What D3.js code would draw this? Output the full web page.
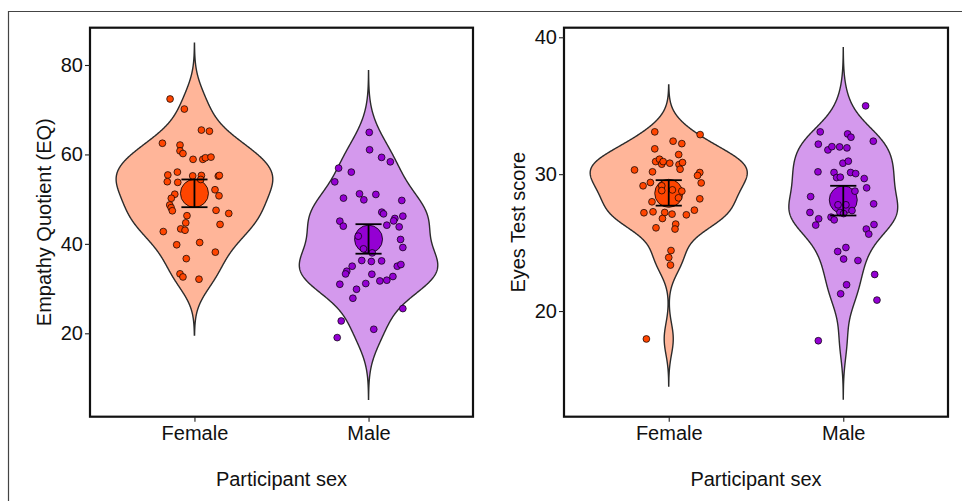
<!DOCTYPE html>
<html><head><meta charset="utf-8">
<script src="https://cdn.jsdelivr.net/npm/d3@7"></script>
<style>
html,body{margin:0;padding:0;background:#fff;}
svg{display:block;font-family:"Liberation Sans",Arial,sans-serif;}
</style></head>
<body>
<svg id="chart" width="962" height="501"></svg>
<script>
// ---------- data ----------
const categories = ["Female", "Male"];
const colors = ["#FF4500", "#9400D3"];

// Empathy Quotient (EQ) – values and horizontal jitter (category units)
const eqFemale = [72.4,70.15,65.45,65.2,62.5,62.1,60.8,60.2,58.9,58.9,59.25,59.4,55.4,56.05,53.9,53.75,55.2,55.3,54.4,55.15,55.3,52.1,50.75,51.1,50.2,48.7,48.1,47.4,47.5,46.8,46.3,44.7,44.35,43.35,43.05,42.75,40.3,39.8,38.15,36.7,33.3,32.6,32.1];
const eqFemaleJit = [-0.14,-0.058,0.04,0.086,-0.184,-0.083,-0.083,-0.066,-0.008,0.048,0.063,0.095,-0.153,-0.098,-0.156,-0.096,-0.01,0.04,0.036,0.137,0.143,0.118,0.141,-0.113,-0.133,-0.142,-0.134,-0.127,0.124,0.197,-0.043,-0.05,0.147,-0.079,-0.054,-0.179,0.03,-0.102,0.12,-0.047,-0.083,-0.066,0.026];
const eqMale = [64.93,61.04,59.34,58.35,56.94,56.05,53.87,50.23,51.19,49.85,51.05,49.71,47.09,46.71,45.68,45.14,46.2,45.08,43.96,44.18,43.8,41.72,38.88,37.98,40.98,39.19,36.28,36.06,36.19,35.0,33.88,33.28,35.0,35.38,33.21,30.97,31.13,31.71,31.87,32.7,29.85,27.84,25.53,22.76,20.9,19.04];
const eqMaleJit = [0.004,0.006,0.075,0.125,-0.172,-0.099,-0.194,-0.144,-0.052,-0.027,0.042,0.191,0.076,0.086,0.151,0.144,0.197,-0.165,-0.145,0.105,0.176,-0.059,-0.029,0.021,0.184,0.197,-0.039,0.016,0.075,-0.094,-0.125,-0.132,0.165,0.186,0.019,-0.165,-0.016,0.065,0.105,0.14,-0.069,-0.09,0.197,-0.157,0.03,-0.18];

// Eyes Test score
const eyesFemale = [33.09,32.89,32.41,32.23,31.85,31.43,30.92,31.09,30.73,30.92,30.8,30.7,30.85,30.36,30.31,30.17,30.12,29.9,29.36,29.39,29.15,29.15,28.8,28.85,28.76,28.27,28.2,27.98,27.18,27.25,27.2,27.08,27.03,27.37,26.76,26.08,26.35,25.99,24.42,23.91,23.36,17.96];
const eyesFemaleJit = [-0.08,0.18,0.025,0.075,-0.08,0.057,-0.075,-0.053,-0.04,-0.032,0.006,0.059,0.079,0.065,-0.196,-0.093,0.178,0.165,0.186,-0.105,-0.147,-0.04,-0.04,0.021,0.075,0.056,0.178,-0.096,-0.142,-0.09,-0.023,0.019,0.101,0.147,-0.036,-0.073,0.04,0.036,0.013,0.0,0.01,-0.128];
const eyesMale = [34.99,33.09,32.94,32.7,32.41,32.19,31.77,32.01,31.99,31.92,30.8,30.95,30.17,30.12,30.12,30.04,29.75,29.78,29.68,29.0,28.76,28.36,27.83,27.76,27.76,27.34,27.2,27.2,27.12,26.86,26.66,26.74,26.28,26.32,25.99,25.62,24.35,24.64,23.8,23.69,22.67,21.92,21.26,20.8,17.83];
const eyesMaleJit = [0.128,-0.132,0.025,0.044,0.172,-0.143,-0.088,-0.065,-0.021,0.021,-0.002,0.029,-0.145,-0.053,0.042,0.071,-0.038,-0.017,0.12,0.134,0.067,-0.187,0.174,-0.03,0.015,0.05,-0.191,-0.019,0.002,-0.07,-0.052,-0.141,-0.158,0.176,0.132,0.146,-0.032,0.015,0.002,0.084,0.18,0.019,-0.015,0.193,-0.143];

// means and error-bar limits
const eqMeans = [51.3, 41.05];
const eqLow = [48.2, 37.8];
const eqHigh = [54.4, 44.4];
const eyesMeans = [28.6, 28.12];
const eyesLow = [27.7, 26.98];
const eyesHigh = [29.56, 29.15];

// axis settings
const eqDomain = [1.35, 88.34];
const eqTicks = [20, 40, 60, 80];
const eyesDomain = [12.28, 40.70];
const eyesTicks = [20, 30, 40];

// ---------- drawing ----------
const svg = d3.select("#chart");
const yTop = 27.7, yBot = 416.7;
const FONT = 20;

// outer figure frame (top + left edges)
svg.append("path").attr("d", "M8.5,501V11.5H962").attr("fill","none").attr("stroke","#444").attr("stroke-width",1.2);

function nrd0(v){
  const n=v.length, s=v.slice().sort(d3.ascending);
  const sd=d3.deviation(s);
  const iqr=d3.quantile(s,0.75)-d3.quantile(s,0.25);
  let lo=Math.min(sd, iqr/1.34);
  if(!(lo>0)) lo = sd || Math.abs(s[0]) || 1;
  return 0.9*lo*Math.pow(n,-0.2);
}
function kde(v){
  const bw=nrd0(v);
  const lo=d3.min(v)-3*bw, hi=d3.max(v)+3*bw, N=512;
  const out=[];
  for(let i=0;i<N;i++){
    const y=lo+(hi-lo)*i/(N-1);
    let s=0;
    for(const x of v){const z=(y-x)/bw; s+=Math.exp(-0.5*z*z);}
    out.push({y, d:s/(v.length*bw*Math.sqrt(2*Math.PI))});
  }
  return out;
}

function panel(opt){
  const g=svg.append("g");
  const unit=(opt.x1-opt.x0)/2.2;
  const xs=d3.scaleLinear().domain([0.4,2.6]).range([opt.x0,opt.x1]);
  const y=d3.scaleLinear().domain(opt.domain).range([yBot,yTop]);

  const dens=opt.groups.map(gr=>kde(gr.vals));
  const maxD=d3.max(dens,ds=>d3.max(ds,p=>p.d));

  opt.groups.forEach((gr,i)=>{
    const cx=xs(i+1);
    const area=d3.area()
      .y(p=>y(p.y))
      .x0(p=>cx-0.45*unit*p.d/maxD)
      .x1(p=>cx+0.45*unit*p.d/maxD)
      .curve(d3.curveLinear);
    const fill=d3.interpolateRgb("#ffffff", colors[i])(0.4);
    g.append("path").datum(dens[i]).attr("d",area)
      .attr("fill",fill).attr("stroke","#2b2b2b").attr("stroke-width",1.4);
  });
  opt.groups.forEach((gr,i)=>{
    g.append("circle").attr("cx",xs(i+1)).attr("cy",y(opt.means[i])).attr("r",14)
      .attr("fill",colors[i]).attr("stroke","#000").attr("stroke-width",0.8);
  });
  opt.groups.forEach((gr,i)=>{
    g.selectAll(null).data(gr.vals.map((v,k)=>({v,j:gr.jit[k]}))).enter()
      .append("circle")
      .attr("cx",d=>xs(i+1+d.j)).attr("cy",d=>y(d.v)).attr("r",3.4)
      .attr("fill",colors[i]).attr("stroke","#000").attr("stroke-width",0.7);
  });
  opt.groups.forEach((gr,i)=>{
    const cx=xs(i+1), hw=0.075*unit;
    const eg=g.append("g").attr("stroke","#000").attr("stroke-width",1.8).attr("fill","none");
    eg.append("line").attr("x1",cx).attr("x2",cx).attr("y1",y(opt.low[i])).attr("y2",y(opt.high[i]));
    eg.append("line").attr("x1",cx-hw).attr("x2",cx+hw).attr("y1",y(opt.low[i])).attr("y2",y(opt.low[i]));
    eg.append("line").attr("x1",cx-hw).attr("x2",cx+hw).attr("y1",y(opt.high[i])).attr("y2",y(opt.high[i]));
  });
  g.append("rect").attr("x",opt.x0).attr("y",yTop).attr("width",opt.x1-opt.x0).attr("height",yBot-yTop)
    .attr("fill","none").attr("stroke","#111").attr("stroke-width",2.2);

  const yAx=g.append("g").attr("transform",`translate(${opt.x0},0)`)
    .call(d3.axisLeft(y).tickValues(opt.ticks).tickSize(5).tickPadding(2).tickFormat(d3.format("d")));
  yAx.select(".domain").remove();
  yAx.selectAll("line").attr("stroke","#222").attr("stroke-width",1.1);
  yAx.selectAll("text").attr("font-size",FONT).attr("fill","#111").attr("font-family","Liberation Sans, Arial, sans-serif");

  const xAx=g.append("g").attr("transform",`translate(0,${yBot})`)
    .call(d3.axisBottom(xs).tickValues([1,2]).tickSize(5).tickPadding(4).tickFormat(d=>categories[d-1]));
  xAx.select(".domain").remove();
  xAx.selectAll("line").attr("stroke","#222").attr("stroke-width",1.1);
  xAx.selectAll("text").attr("font-size",FONT).attr("fill","#111").attr("font-family","Liberation Sans, Arial, sans-serif");

  g.append("text").attr("x",(opt.x0+opt.x1)/2).attr("y",486)
    .attr("text-anchor","middle").attr("font-size",FONT).attr("fill","#111").text("Participant sex");
  g.append("text").attr("transform",`translate(${opt.ytx},${(yTop+yBot)/2}) rotate(-90)`)
    .attr("text-anchor","middle").attr("font-size",FONT).attr("fill","#111").text(opt.title);
}

panel({x0:90,x1:473,domain:eqDomain,ticks:eqTicks,title:"Empathy Quotient (EQ)",ytx:51,
  groups:[{vals:eqFemale,jit:eqFemaleJit},{vals:eqMale,jit:eqMaleJit}],
  means:eqMeans,low:eqLow,high:eqHigh});
panel({x0:564,x1:948,domain:eyesDomain,ticks:eyesTicks,title:"Eyes Test score",ytx:525,
  groups:[{vals:eyesFemale,jit:eyesFemaleJit},{vals:eyesMale,jit:eyesMaleJit}],
  means:eyesMeans,low:eyesLow,high:eyesHigh});
</script>
</body></html>
